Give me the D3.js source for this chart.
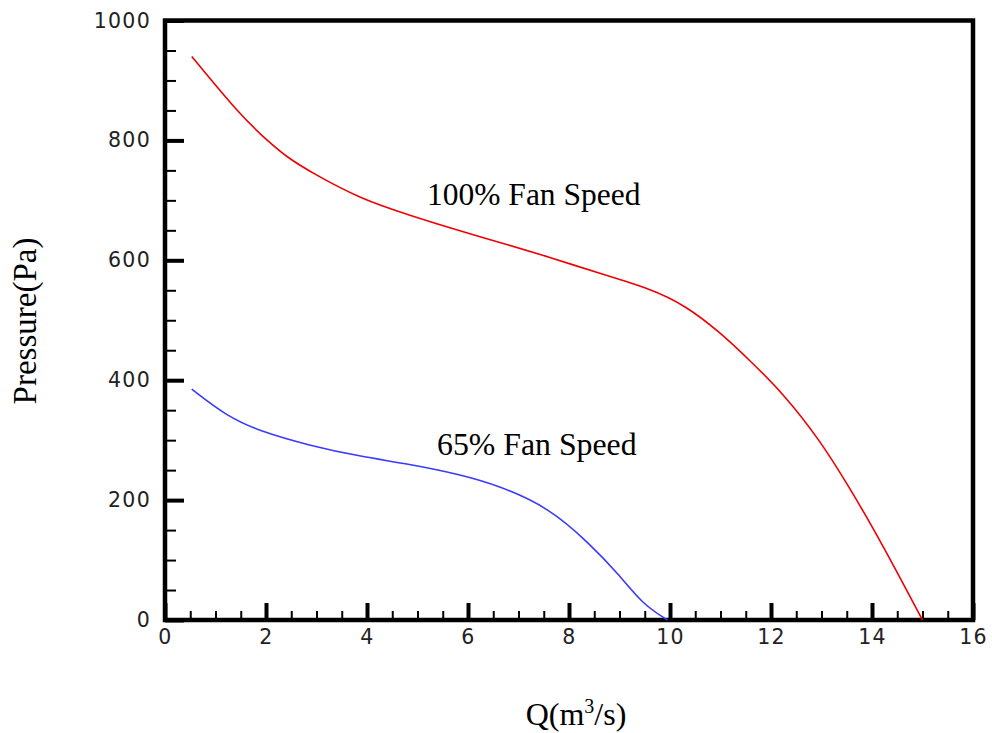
<!DOCTYPE html>
<html>
<head>
<meta charset="utf-8">
<script src="https://cdn.jsdelivr.net/npm/d3@7"></script>
<style>
  body { margin: 0; background: #fff; }
  .tick text { font-family: "DejaVu Sans", sans-serif; font-size: 20.5px; fill: #222; letter-spacing: 1.3px; }
  .lbl { font-family: "Liberation Serif", "Times New Roman", serif; fill: #000; }
</style>
</head>
<body>
<script>
// data
const q100 = [0.53, 1.49, 2.01, 2.41, 2.93, 3.86, 4.85, 5.84, 6.63, 7.62, 8.61, 9.6, 10.3, 10.99, 11.58, 12.24, 12.97, 13.56, 14.03, 14.42, 15.0];
const p100 = [940, 842, 801, 772, 745, 703, 675, 649, 630, 605, 578, 553, 525, 480, 433, 378, 300, 220, 152, 92, 0];
const q65 = [0.53, 1.22, 1.87, 2.86, 3.85, 4.84, 5.83, 6.62, 7.61, 8.4, 8.99, 9.46, 9.95];
const p65 = [385, 340, 315, 291, 273, 260, 243, 224, 187, 128, 76, 26, 0];
const xMajor = [0, 2, 4, 6, 8, 10, 12, 14, 16];
const yMajor = [0, 200, 400, 600, 800, 1000];

const width = 992, height = 733;
const plotL = 165, plotR = 973, plotT = 20.5, plotB = 620;

const svg = d3.select("body").append("svg")
    .attr("width", width)
    .attr("height", height);

const x = d3.scaleLinear().domain([0, 16]).range([plotL, plotR]);
const y = d3.scaleLinear().domain([0, 1000]).range([plotB, plotT]);

const xMinor = d3.range(0, 16.01, 0.5).filter(v => !xMajor.includes(v));
const yMinor = d3.range(0, 1001, 50).filter(v => !yMajor.includes(v));

// minor ticks
svg.append("g")
    .attr("transform", `translate(0,${plotB})`)
    .call(d3.axisBottom(x).tickValues(xMinor).tickFormat("").tickSize(-9))
    .call(g => g.select(".domain").remove())
    .selectAll("line").attr("stroke", "#000").attr("stroke-width", 2);

svg.append("g")
    .attr("transform", `translate(${plotL},0)`)
    .call(d3.axisLeft(y).tickValues(yMinor).tickFormat("").tickSize(-11))
    .call(g => g.select(".domain").remove())
    .selectAll("line").attr("stroke", "#000").attr("stroke-width", 2);

// major ticks + labels
const xAxis = svg.append("g")
    .attr("transform", `translate(0,${plotB})`)
    .call(d3.axisBottom(x).tickValues(xMajor).tickFormat(d3.format("d")).tickSize(-17).tickPadding(9))
    .call(g => g.select(".domain").remove());
xAxis.selectAll("line").attr("stroke", "#000").attr("stroke-width", 4);

const yAxis = svg.append("g")
    .attr("transform", `translate(${plotL},0)`)
    .call(d3.axisLeft(y).tickValues(yMajor).tickFormat(d3.format("d")).tickSize(-19).tickPadding(14))
    .call(g => g.select(".domain").remove());
yAxis.selectAll("line").attr("stroke", "#000").attr("stroke-width", 4);

// frame
svg.append("rect")
    .attr("x", plotL).attr("y", plotT)
    .attr("width", plotR - plotL).attr("height", plotB - plotT)
    .attr("fill", "none")
    .attr("stroke", "#000")
    .attr("stroke-width", 4.5);

const line = d3.line()
    .x(d => x(d[0]))
    .y(d => y(d[1]))
    .curve(d3.curveBasis);

svg.append("path")
    .datum(q100.map((v, i) => [v, p100[i]]))
    .attr("d", line)
    .attr("fill", "none")
    .attr("stroke", "#f00000")
    .attr("stroke-width", 1.6);

svg.append("path")
    .datum(q65.map((v, i) => [v, p65[i]]))
    .attr("d", line)
    .attr("fill", "none")
    .attr("stroke", "#3a3aff")
    .attr("stroke-width", 1.6);

// curve labels
svg.append("text").attr("class", "lbl")
    .attr("x", 427).attr("y", 205)
    .style("font-size", "31.5px")
    .text("100% Fan Speed");

svg.append("text").attr("class", "lbl")
    .attr("x", 437).attr("y", 455)
    .style("font-size", "31.8px")
    .text("65% Fan Speed");

// axis titles
svg.append("text").attr("class", "lbl")
    .attr("transform", "translate(36,321) rotate(-90)")
    .attr("text-anchor", "middle")
    .style("font-size", "33px")
    .text("Pressure(Pa)");

const xt = svg.append("text").attr("class", "lbl")
    .attr("x", 576).attr("y", 725)
    .attr("text-anchor", "middle")
    .style("font-size", "32px");
xt.append("tspan").text("Q(m");
xt.append("tspan").attr("dy", -12).style("font-size", "20px").text("3");
xt.append("tspan").attr("dy", 12).text("/s)");
</script>
</body>
</html>
